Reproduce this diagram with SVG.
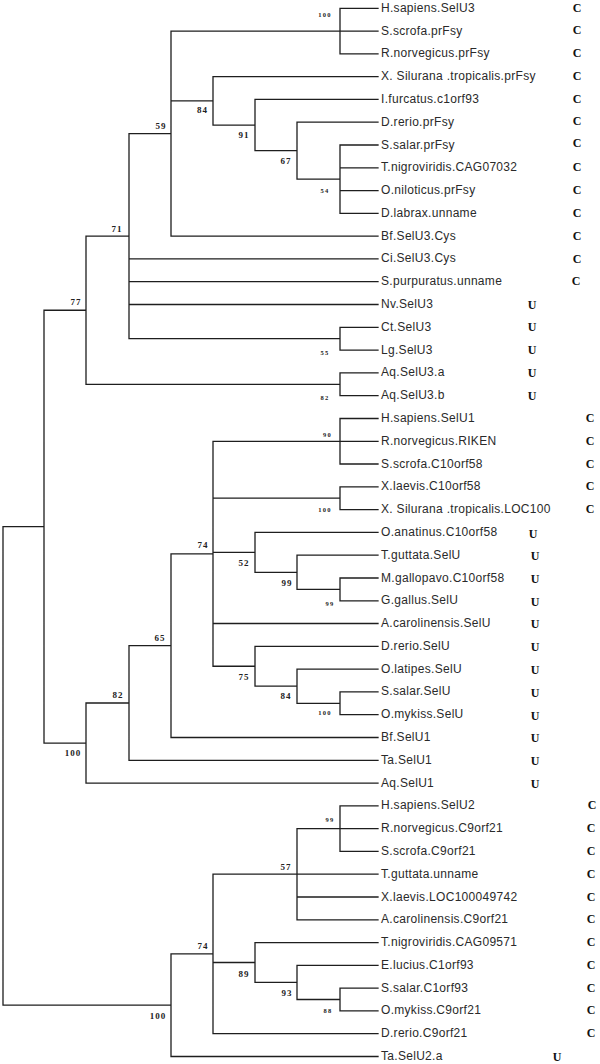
<svg xmlns="http://www.w3.org/2000/svg" width="600" height="1064" viewBox="0 0 600 1064">
<style>
.e{fill:none;stroke:#1e1e1e;stroke-width:1.3;stroke-linecap:square}
.t{font-family:"Liberation Sans",Arial,sans-serif;font-size:12px;letter-spacing:0.3px;fill:#2a2a2a}
.c{font-family:"Liberation Serif","Times New Roman",serif;font-size:12px;font-weight:bold;fill:#111;text-anchor:middle}
.bs{font-family:"Liberation Serif","Times New Roman",serif;font-size:9px;font-weight:bold;letter-spacing:1px;fill:#222;text-anchor:middle}
.bs2{font-family:"Liberation Serif","Times New Roman",serif;font-size:6.5px;font-weight:bold;letter-spacing:1.2px;fill:#222;text-anchor:middle}
</style>
<rect width="600" height="1064" fill="#fff"/>
<g id="connectors">
<path class="e" d="M340 8.3V53.9M340 8.3H378M340 31.1H378M340 53.9H378M171 31.1H340
M213 76.7V125.05M213 76.7H378M171 100.9H213
M255 99.4V150.7M255 99.4H378M213 125.05H255
M297 122.2V179.2M297 122.2H378M255 150.7H297
M340 145V213.4M340 145H378M340 167.8H378M340 190.6H378M340 213.4H378M297 179.2H340
M171 31.1V236.2M171 236.2H378M129 133.65H171
M129 133.65V338.7M129 258.9H378M129 281.7H378M129 304.5H378M129 338.7H340
M340 327.3V350.1M340 327.3H378M340 350.1H378
M86 236.2V384.3M86 236.2H129M86 384.3H340
M340 372.9V395.7M340 372.9H378M340 395.7H378
M44 310.25V743.04M44 310.25H86M44 743.04H86M3 526.6H44
M3 526.6V1005.2M3 1005.2H171
M340 418.5V464M340 418.5H378M340 441.3H378M340 464H378M213 441.3H340
M340 486.8V509.6M340 486.8H378M340 509.6H378M213 498.2H340
M255 532.4V572.3M255 532.4H378M213 552.35H255
M297 555.2V589.4M297 555.2H378M255 572.3H297
M340 578V600.8M340 578H378M340 600.8H378M297 589.4H340
M213 441.3V666.25M213 623.5H378M213 666.25H255
M255 646.3V686.2M255 646.3H378M255 686.2H297
M297 669.1V703.3M297 669.1H378M297 703.3H340
M340 691.9V714.7M340 691.9H378M340 714.7H378
M171 553.8V737.5M171 553.8H213M171 737.5H378
M129 645.65V760.3M129 645.65H171M129 760.3H378
M86 702.98V783.1M86 702.98H129M86 783.1H378
M340 805.8V851.4M340 805.8H378M340 828.6H378M340 851.4H378M297 828.6H340
M297 828.6V919.8M297 874.2H378M297 897H378M297 919.8H378M213 874.2H297
M340 988.1V1010.9M340 988.1H378M340 1010.9H378
M297 965.4V999.5M297 965.4H378M297 999.5H340
M255 942.6V982.45M255 942.6H378M255 982.45H297M213 962.5H255
M213 874.2V1033.7M213 1033.7H378M171 953.95H213
M171 953.95V1056.5M171 1056.5H378"/>
</g>
<g id="leaves">
<g id="leaf1"><text class="t" x="381" y="11.8">H.sapiens.SelU3</text><text class="c" x="577" y="11.5">C</text></g>
<g id="leaf2"><text class="t" x="381" y="34.6">S.scrofa.prFsy</text><text class="c" x="577" y="34.3">C</text></g>
<g id="leaf3"><text class="t" x="381" y="57.4">R.norvegicus.prFsy</text><text class="c" x="577" y="57.1">C</text></g>
<g id="leaf4"><text class="t" x="381" y="80.2">X. Silurana .tropicalis.prFsy</text><text class="c" x="577" y="79.9">C</text></g>
<g id="leaf5"><text class="t" x="381" y="102.9">I.furcatus.c1orf93</text><text class="c" x="577" y="102.6">C</text></g>
<g id="leaf6"><text class="t" x="381" y="125.7">D.rerio.prFsy</text><text class="c" x="577" y="125.4">C</text></g>
<g id="leaf7"><text class="t" x="381" y="148.5">S.salar.prFsy</text><text class="c" x="577" y="146.5">C</text></g>
<g id="leaf8"><text class="t" x="381" y="171.3">T.nigroviridis.CAG07032</text><text class="c" x="577" y="171">C</text></g>
<g id="leaf9"><text class="t" x="381" y="194.1">O.niloticus.prFsy</text><text class="c" x="577" y="194.3">C</text></g>
<g id="leaf10"><text class="t" x="381" y="216.9">D.labrax.unname</text><text class="c" x="577" y="217">C</text></g>
<g id="leaf11"><text class="t" x="381" y="239.7">Bf.SelU3.Cys</text><text class="c" x="577" y="239.5">C</text></g>
<g id="leaf12"><text class="t" x="381" y="262.4">Ci.SelU3.Cys</text><text class="c" x="577" y="262.6">C</text></g>
<g id="leaf13"><text class="t" x="381" y="285.2">S.purpuratus.unname</text><text class="c" x="576" y="285">C</text></g>
<g id="leaf14"><text class="t" x="381" y="308">Nv.SelU3</text><text class="c" x="532" y="308.5">U</text></g>
<g id="leaf15"><text class="t" x="381" y="330.8">Ct.SelU3</text><text class="c" x="532" y="331.3">U</text></g>
<g id="leaf16"><text class="t" x="381" y="353.6">Lg.SelU3</text><text class="c" x="532" y="354.1">U</text></g>
<g id="leaf17"><text class="t" x="381" y="376.4">Aq.SelU3.a</text><text class="c" x="532" y="376.9">U</text></g>
<g id="leaf18"><text class="t" x="381" y="399.2">Aq.SelU3.b</text><text class="c" x="532" y="399.7">U</text></g>
<g id="leaf19"><text class="t" x="381" y="422">H.sapiens.SelU1</text><text class="c" x="590" y="422">C</text></g>
<g id="leaf20"><text class="t" x="381" y="444.8">R.norvegicus.RIKEN</text><text class="c" x="590" y="444.8">C</text></g>
<g id="leaf21"><text class="t" x="381" y="467.5">S.scrofa.C10orf58</text><text class="c" x="590" y="467.5">C</text></g>
<g id="leaf22"><text class="t" x="381" y="490.3">X.laevis.C10orf58</text><text class="c" x="590" y="490.3">C</text></g>
<g id="leaf23"><text class="t" x="381" y="513.1">X. Silurana .tropicalis.LOC100</text><text class="c" x="590" y="513.1">C</text></g>
<g id="leaf24"><text class="t" x="381" y="535.9">O.anatinus.C10orf58</text><text class="c" x="533" y="538">U</text></g>
<g id="leaf25"><text class="t" x="381" y="558.7">T.guttata.SelU</text><text class="c" x="535" y="560">U</text></g>
<g id="leaf26"><text class="t" x="381" y="581.5">M.gallopavo.C10orf58</text><text class="c" x="535" y="582.8">U</text></g>
<g id="leaf27"><text class="t" x="381" y="604.3">G.gallus.SelU</text><text class="c" x="535" y="605.6">U</text></g>
<g id="leaf28"><text class="t" x="381" y="627">A.carolinensis.SelU</text><text class="c" x="535" y="628.3">U</text></g>
<g id="leaf29"><text class="t" x="381" y="649.8">D.rerio.SelU</text><text class="c" x="535" y="651.1">U</text></g>
<g id="leaf30"><text class="t" x="381" y="672.6">O.latipes.SelU</text><text class="c" x="535" y="673.9">U</text></g>
<g id="leaf31"><text class="t" x="381" y="695.4">S.salar.SelU</text><text class="c" x="535" y="696.7">U</text></g>
<g id="leaf32"><text class="t" x="381" y="718.2">O.mykiss.SelU</text><text class="c" x="535" y="719.5">U</text></g>
<g id="leaf33"><text class="t" x="381" y="741">Bf.SelU1</text><text class="c" x="535" y="742.3">U</text></g>
<g id="leaf34"><text class="t" x="381" y="763.8">Ta.SelU1</text><text class="c" x="535" y="765.1">U</text></g>
<g id="leaf35"><text class="t" x="381" y="786.6">Aq.SelU1</text><text class="c" x="535" y="787.9">U</text></g>
<g id="leaf36"><text class="t" x="381" y="809.3">H.sapiens.SelU2</text><text class="c" x="592" y="809.3">C</text></g>
<g id="leaf37"><text class="t" x="381" y="832.1">R.norvegicus.C9orf21</text><text class="c" x="591" y="832.1">C</text></g>
<g id="leaf38"><text class="t" x="381" y="854.9">S.scrofa.C9orf21</text><text class="c" x="591" y="854.9">C</text></g>
<g id="leaf39"><text class="t" x="381" y="877.7">T.guttata.unname</text><text class="c" x="591" y="877.7">C</text></g>
<g id="leaf40"><text class="t" x="381" y="900.5">X.laevis.LOC100049742</text><text class="c" x="591" y="900.5">C</text></g>
<g id="leaf41"><text class="t" x="381" y="923.3">A.carolinensis.C9orf21</text><text class="c" x="591" y="923.3">C</text></g>
<g id="leaf42"><text class="t" x="381" y="946.1">T.nigroviridis.CAG09571</text><text class="c" x="591" y="946.1">C</text></g>
<g id="leaf43"><text class="t" x="381" y="968.9">E.lucius.C1orf93</text><text class="c" x="591" y="968.9">C</text></g>
<g id="leaf44"><text class="t" x="381" y="991.6">S.salar.C1orf93</text><text class="c" x="591" y="991.6">C</text></g>
<g id="leaf45"><text class="t" x="381" y="1014.4">O.mykiss.C9orf21</text><text class="c" x="591" y="1014.4">C</text></g>
<g id="leaf46"><text class="t" x="381" y="1037.2">D.rerio.C9orf21</text><text class="c" x="591" y="1037.2">C</text></g>
<g id="leaf47"><text class="t" x="381" y="1060">Ta.SelU2.a</text><text class="c" x="557" y="1060.5">U</text></g>
</g>
<g id="internal-nodes">
<g id="n100a"><text class="bs2" x="325" y="17.3">100</text></g>
<g id="n84a"><text class="bs" x="202.5" y="113.2">84</text></g>
<g id="n59"><text class="bs" x="161" y="129.2">59</text></g>
<g id="n91"><text class="bs" x="244" y="138.2">91</text></g>
<g id="n67"><text class="bs" x="286" y="163.9">67</text></g>
<g id="n54"><text class="bs2" x="325" y="193.3">54</text></g>
<g id="n71"><text class="bs" x="117" y="231.5">71</text></g>
<g id="n77"><text class="bs" x="76" y="304.9">77</text></g>
<g id="n55"><text class="bs2" x="325" y="354.6">55</text></g>
<g id="n82a"><text class="bs2" x="325" y="400">82</text></g>
<g id="n90"><text class="bs2" x="327.5" y="437">90</text></g>
<g id="n100b"><text class="bs2" x="325" y="512.3">100</text></g>
<g id="n74a"><text class="bs" x="203" y="548.2">74</text></g>
<g id="n52"><text class="bs" x="244" y="565.5">52</text></g>
<g id="n99a"><text class="bs" x="287" y="585.5">99</text></g>
<g id="n99b"><text class="bs2" x="330" y="605.6">99</text></g>
<g id="n65"><text class="bs" x="160" y="640.5">65</text></g>
<g id="n75"><text class="bs" x="244" y="679.9">75</text></g>
<g id="n82b"><text class="bs" x="118" y="697.5">82</text></g>
<g id="n84b"><text class="bs" x="286" y="698.9">84</text></g>
<g id="n100c"><text class="bs2" x="325" y="715">100</text></g>
<g id="n100d"><text class="bs" x="73" y="755.5">100</text></g>
<g id="n99c"><text class="bs2" x="330" y="822.3">99</text></g>
<g id="n57"><text class="bs" x="286" y="869.9">57</text></g>
<g id="n74b"><text class="bs" x="203" y="948.9">74</text></g>
<g id="n89"><text class="bs" x="244" y="976.5">89</text></g>
<g id="n93"><text class="bs" x="287" y="995.9">93</text></g>
<g id="n88"><text class="bs2" x="328" y="1013">88</text></g>
<g id="n100e"><text class="bs" x="158" y="1018.9">100</text></g>
</g>
</svg>
